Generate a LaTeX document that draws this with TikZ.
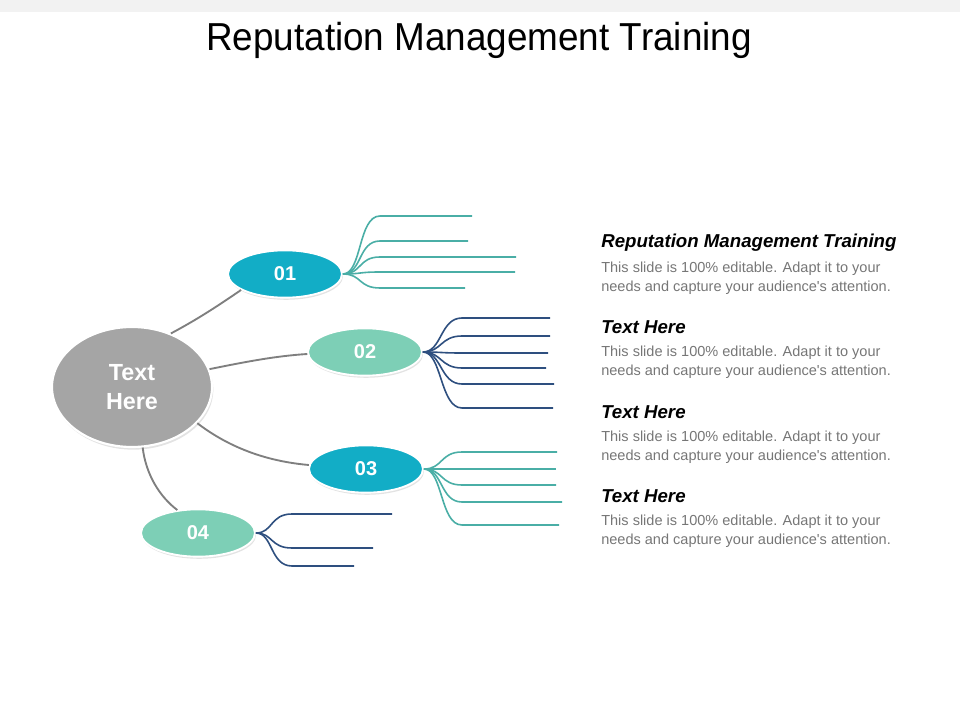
\documentclass[tikz,border=0pt]{standalone}
\usepackage{fontspec}
\setmainfont{Liberation Sans}[Ligatures=TeXOff]
\newfontfamily\titlefont[FakeStretch=0.945]{Liberation Sans}
\usetikzlibrary{shapes.geometric,shadows}
\definecolor{cyanA}{HTML}{12ADC6}
\definecolor{mintA}{HTML}{7DCFB6}
\definecolor{grayC}{HTML}{A5A5A5}
\definecolor{tealL}{HTML}{4AAEA6}
\definecolor{navyL}{HTML}{2E4F7F}
\definecolor{linkG}{HTML}{7F7F7F}
\definecolor{bodyG}{HTML}{767676}
\definecolor{stripG}{HTML}{F2F2F2}
\newcommand{\bodytext}{This slide is 100\% editable. Adapt it to your\\needs and capture your audience's attention.}
\begin{document}
\begin{tikzpicture}[x=0.75pt,y=-0.75pt,
  bubble/.style={ellipse,minimum width=85.5pt,minimum height=35.5pt,inner sep=0pt,
    draw=white,line width=1.4pt,text=white,font=\bfseries\fontsize{15}{17}\selectfont,
    drop shadow={opacity=0.22,shadow xshift=0.8pt,shadow yshift=-1.6pt}},
  hub/.style={ellipse,minimum width=120pt,minimum height=90pt,inner sep=0pt,
    draw=white,line width=1.6pt,fill=grayC,text=white,align=center,
    font=\bfseries\fontsize{17.5}{21.8}\selectfont,
    drop shadow={opacity=0.22,shadow xshift=1pt,shadow yshift=-2pt}},
  link/.style={draw=linkG,line width=1.4pt},
  tealfan/.style={draw=tealL,line width=1.2pt},
  navyfan/.style={draw=navyL,line width=1.2pt},
  head/.style={anchor=west,inner sep=0pt,font=\bfseries\itshape\fontsize{14}{16}\selectfont},
  body/.style={anchor=north west,inner sep=0pt,align=left,text=bodyG,
    font=\fontsize{10.9}{14.3}\selectfont}]
\useasboundingbox (0,0) rectangle (960,720);
\fill[stripG] (0,0) rectangle (960,12);
\node[anchor=base,inner sep=0pt,font=\titlefont\fontsize{29.25}{32}\selectfont] (title) at (479,51) {Reputation Management Training};

% nodes
\node[hub] (C) at (132,387) {Text\\Here};
\node[bubble,fill=cyanA] (n1) at (285,274) {01};
\node[bubble,fill=mintA] (n2) at (365,352) {02};
\node[bubble,fill=cyanA] (n3) at (366,469) {03};
\node[bubble,fill=mintA] (n4) at (198,533) {04};

% links from hub
\draw[link] (C.54) .. controls (200,318) and (222,303) .. (n1.200);
\draw[link] (C.13) .. controls (245,362) and (275,356) .. (n2.182);
\draw[link] (C.-29) .. controls (235,452) and (275,462) .. (n3.176);
\draw[link] (C.-80) .. controls (146,475) and (160,497) .. (n4.132);

% fan 01
\foreach \k/\y/\e in {1/216/472,2/241/468,3/257/516,4/272/515,5/288/465}{
  \coordinate (a\k) at (\e,\y);
  \draw[tealfan] (n1.east) .. controls (362,274) and (358,\y) .. (380,\y) -- (a\k);
}
% fan 02
\foreach \k/\y/\e in {1/318/550,2/336/550,3/353/548,4/368/546,5/384/554,6/408/553}{
  \coordinate (b\k) at (\e,\y);
  \draw[navyfan] (n2.east) .. controls (442,352) and (440,\y) .. (462,\y) -- (b\k);
}
% fan 03
\foreach \k/\y/\e in {1/452/557,2/469/556,3/485/556,4/502/562,5/525/559}{
  \coordinate (c\k) at (\e,\y);
  \draw[tealfan] (n3.east) .. controls (443,469) and (440,\y) .. (462,\y) -- (c\k);
}
% fan 04
\foreach \k/\y/\e in {1/514/392,2/548/373,3/566/354}{
  \coordinate (d\k) at (\e,\y);
  \draw[navyfan] (n4.east) .. controls (273,533) and (270,\y) .. (292,\y) -- (d\k);
}

% right text
\node[head] (h1) at (601,243) {Reputation Management Training};
\node[body] (t1) at (601,262) {\bodytext};
\node[head] (h2) at (601,327) {Text Here};
\node[body] (t2) at (601,346) {\bodytext};
\node[head] (h3) at (601,412) {Text Here};
\node[body] (t3) at (601,431) {\bodytext};
\node[head] (h4) at (601,496) {Text Here};
\node[body] (t4) at (601,515) {\bodytext};
\end{tikzpicture}
\end{document}
